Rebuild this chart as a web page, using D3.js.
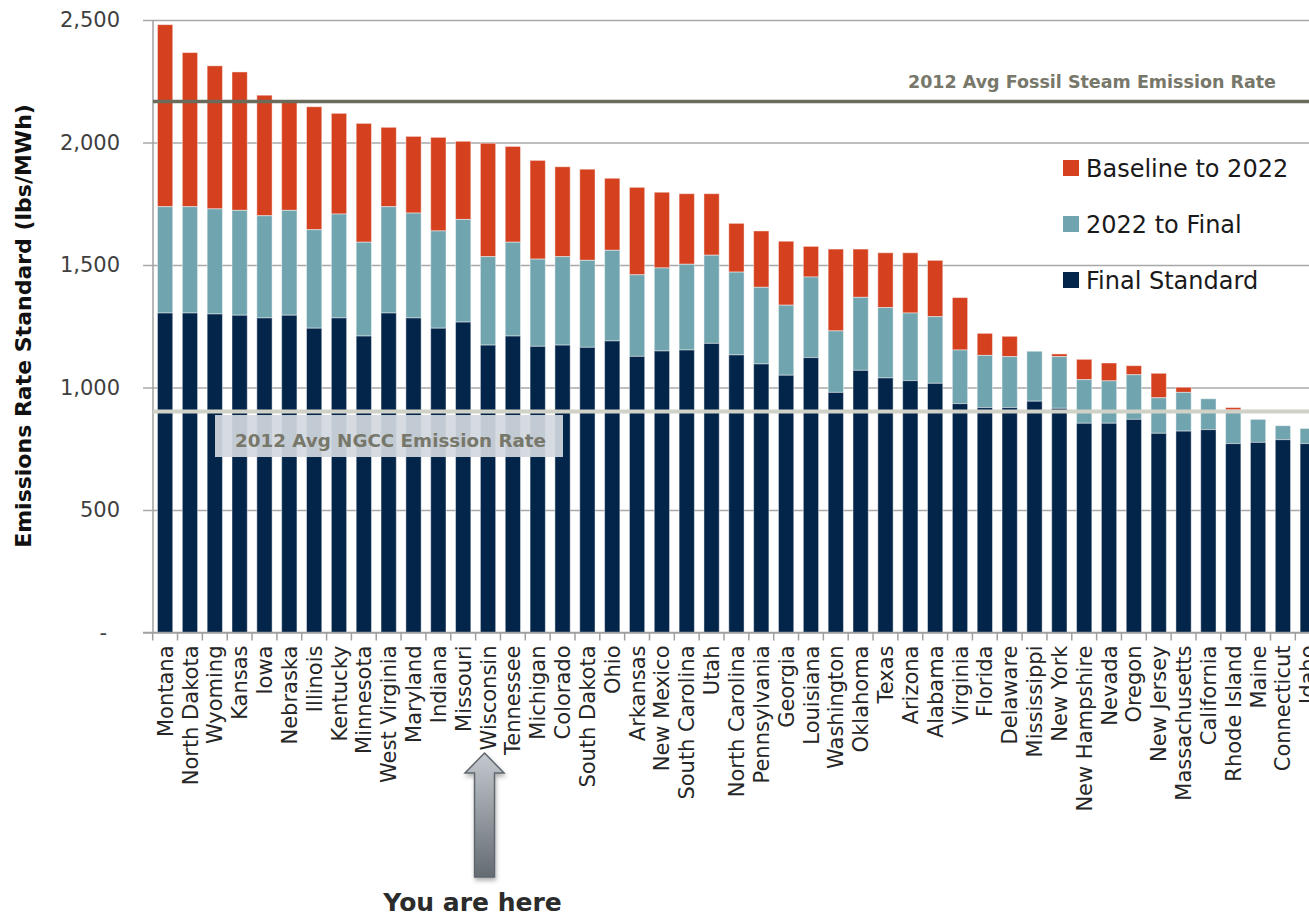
<!DOCTYPE html>
<html>
<head>
<meta charset="utf-8">
<script src="https://cdn.jsdelivr.net/npm/d3@7"></script>
<style>
  html, body { margin: 0; padding: 0; background: #fff; }
  svg { display: block; }
  text { font-family: "DejaVu Sans", sans-serif; }
</style>
</head>
<body>
<svg id="canvas" width="1309" height="918"></svg>
<script>
// states in chart order, plus the three stacked levels (lbs/MWh)
const states = ["Montana", "North Dakota", "Wyoming", "Kansas", "Iowa", "Nebraska", "Illinois", "Kentucky",
  "Minnesota", "West Virginia", "Maryland", "Indiana", "Missouri", "Wisconsin", "Tennessee", "Michigan",
  "Colorado", "South Dakota", "Ohio", "Arkansas", "New Mexico", "South Carolina", "Utah", "North Carolina",
  "Pennsylvania", "Georgia", "Louisiana", "Washington", "Oklahoma", "Texas", "Arizona", "Alabama",
  "Virginia", "Florida", "Delaware", "Mississippi", "New York", "New Hampshire", "Nevada", "Oregon",
  "New Jersey", "Massachusetts", "California", "Rhode Island", "Maine", "Connecticut", "Idaho"];

const finalStandard = [1304, 1304, 1300, 1295, 1284, 1295, 1242, 1284, 1210, 1304, 1284, 1242, 1267, 1173, 1210, 1168,
  1173, 1164, 1190, 1127, 1149, 1153, 1180, 1133, 1096, 1050, 1122, 980, 1070, 1039, 1028, 1017,
  934, 918, 918, 944, 915, 854, 854, 870, 813, 822, 828, 771, 776, 787, 771];

const interim2022 = [1738, 1738, 1729, 1723, 1701, 1723, 1644, 1708, 1593, 1738, 1712, 1639, 1686, 1534, 1593, 1524,
  1534, 1519, 1560, 1460, 1488, 1503, 1540, 1471, 1409, 1336, 1451, 1231, 1368, 1326, 1304, 1289,
  1153, 1131, 1126, 1148, 1126, 1032, 1027, 1052, 958, 980, 954, 908, 870, 844, 833];

const baseline = [2481, 2367, 2313, 2288, 2193, 2165, 2146, 2119, 2078, 2062, 2025, 2021, 2005, 1997, 1984, 1927,
  1901, 1891, 1854, 1817, 1797, 1791, 1791, 1670, 1639, 1597, 1576, 1565, 1565, 1550, 1550, 1519,
  1367, 1221, 1209, 1148, 1137, 1115, 1100, 1089, 1058, 1001, 954, 918, 870, 844, 833];

const seriesNames = ["Baseline to 2022", "2022 to Final", "Final Standard"];
const yTicks = [0, 500, 1000, 1500, 2000, 2500];
const fossilRate = 2167;
const ngccRate = 902;
const highlight = "Wisconsin";

const settings = {
  width: 1309,
  height: 918,
  left: 153,
  top: 20,
  bottom: 632.5,
  step: 24.84,
  colors: ["#d5401f", "#70a4ae", "#03254a"],
};

function graph() {
  const svg = d3.select('#canvas');
  const n = states.length;

  const pIn = 0.385, pOut = 0.18;
  const x = d3.scaleBand()
    .domain(states)
    .range([settings.left, settings.left + settings.step * (n - pIn + 2 * pOut)])
    .paddingInner(pIn)
    .paddingOuter(pOut);

  const y = d3.scaleLinear()
    .domain([0, 2500])
    .range([settings.bottom, settings.top]);

  // gridlines
  svg.append("g")
    .attr("transform", `translate(${settings.left},0)`)
    .call(d3.axisLeft(y).tickValues(yTicks).tickSize(-(settings.width - settings.left)).tickFormat(""))
    .call(g => g.select(".domain").remove())
    .call(g => g.selectAll("line").attr("stroke", "#a8a8a8").attr("stroke-width", 1.5));

  // y axis ticks + labels
  svg.append("g")
    .attr("transform", `translate(${settings.left},0)`)
    .call(d3.axisLeft(y).tickValues(yTicks).tickSize(10).tickPadding(23)
      .tickFormat(d => d ? d3.format(",")(d) : "-"))
    .call(g => g.select(".domain").remove())
    .call(g => g.selectAll("line").attr("stroke", "#a8a8a8").attr("stroke-width", 1.5))
    .call(g => g.selectAll("text")
      .attr("font-family", "DejaVu Sans")
      .attr("font-size", 21)
      .attr("fill", "#3f3f3f"))
    .call(g => g.selectAll("text").filter(d => d === 0).attr("dx", -13));

  // stacked segments
  const rows = states.map((s, i) => ({
    state: s,
    segs: [
      [interim2022[i], baseline[i], 0],
      [finalStandard[i], interim2022[i], 1],
      [0, finalStandard[i], 2],
    ]
  }));

  svg.append("g")
    .attr("class", "bars")
    .selectAll("g")
    .data(rows)
    .join("g")
    .selectAll("rect")
    .data(d => d.segs.filter(s => s[1] > s[0]).map(s => ({ state: d.state, lo: s[0], hi: s[1], k: s[2] })))
    .join("rect")
    .attr("x", d => x(d.state))
    .attr("y", d => y(d.hi))
    .attr("width", x.bandwidth())
    .attr("height", d => y(d.lo) - y(d.hi))
    .attr("fill", d => settings.colors[d.k])
    .attr("stroke", "#ffffff")
    .attr("stroke-opacity", 0.45)
    .attr("stroke-width", 1);

  // axis lines
  svg.append("line")
    .attr("x1", settings.left).attr("x2", settings.left)
    .attr("y1", y(2500)).attr("y2", y(0))
    .attr("stroke", "#a0a0a0").attr("stroke-width", 1.5);

  svg.append("line")
    .attr("x1", settings.left - 10).attr("x2", settings.width)
    .attr("y1", y(0)).attr("y2", y(0))
    .attr("stroke", "#a0a0a0").attr("stroke-width", 1.5);

  // x ticks sit between the bars
  const half = x.step() * x.paddingInner() / 2;
  svg.append("g")
    .selectAll("line")
    .data(states)
    .join("line")
    .attr("x1", d => x(d) - half)
    .attr("x2", d => x(d) - half)
    .attr("y1", y(0))
    .attr("y2", y(0) + 8)
    .attr("stroke", "#a0a0a0")
    .attr("stroke-width", 1.5);

  svg.append("g")
    .attr("class", "xlabels")
    .selectAll("text")
    .data(states)
    .join("text")
    .attr("transform", d => `translate(${x(d) + x.bandwidth() / 2},${y(0) + 13}) rotate(-90)`)
    .attr("dy", "0.36em")
    .attr("text-anchor", "end")
    .attr("font-size", 21)
    .attr("fill", "#262626")
    .text(d => d);

  // NGCC label box + reference lines
  svg.append("rect")
    .attr("x", 215).attr("y", y(ngccRate) + 3.5)
    .attr("width", 348).attr("height", 42)
    .attr("fill", "#d3d8e0")
    .attr("fill-opacity", 0.92);

  svg.append("text")
    .attr("x", 235).attr("y", y(ngccRate) + 35)
    .attr("font-size", 18.3).attr("font-weight", "bold")
    .attr("fill", "#77776a")
    .text("2012 Avg NGCC Emission Rate");

  svg.append("line")
    .attr("x1", settings.left).attr("x2", settings.width)
    .attr("y1", y(ngccRate)).attr("y2", y(ngccRate))
    .attr("stroke", "#d1d2c7").attr("stroke-width", 4);

  svg.append("line")
    .attr("x1", settings.left).attr("x2", settings.width)
    .attr("y1", y(fossilRate)).attr("y2", y(fossilRate))
    .attr("stroke", "#6b6b5b").attr("stroke-width", 3.5);

  svg.append("text")
    .attr("x", 1276).attr("y", y(fossilRate) - 14)
    .attr("text-anchor", "end")
    .attr("font-size", 17.5).attr("font-weight", "bold")
    .attr("fill", "#77776a")
    .text("2012 Avg Fossil Steam Emission Rate");

  // legend
  const legend = svg.append("g")
    .attr("class", "legend")
    .selectAll("g")
    .data(seriesNames)
    .join("g")
    .attr("transform", (d, i) => `translate(1063,${168 + i * 56})`);

  legend.append("rect")
    .attr("x", 0).attr("y", -8)
    .attr("width", 16).attr("height", 16)
    .attr("fill", (d, i) => settings.colors[i]);

  legend.append("text")
    .attr("x", 23)
    .attr("dy", "0.36em")
    .attr("font-size", 24)
    .attr("fill", "#1a1a1a")
    .text(d => d);

  // y title
  svg.append("text")
    .attr("transform", `translate(31,326) rotate(-90)`)
    .attr("text-anchor", "middle")
    .attr("font-size", 22)
    .attr("font-weight", "bold")
    .attr("fill", "#111")
    .text("Emissions Rate Standard (lbs/MWh)");

  // "You are here" arrow under the highlighted state
  const defs = svg.append("defs");
  const grad = defs.append("linearGradient")
    .attr("id", "arrowGrad")
    .attr("x1", 0).attr("y1", 0).attr("x2", 0).attr("y2", 1);
  grad.append("stop").attr("offset", "0%").attr("stop-color", "#c4cacf");
  grad.append("stop").attr("offset", "100%").attr("stop-color", "#646b72");

  const shadow = defs.append("filter").attr("id", "shadow")
    .attr("x", "-30%").attr("y", "-10%").attr("width", "160%").attr("height", "130%");
  shadow.append("feDropShadow")
    .attr("dx", 1).attr("dy", 3).attr("stdDeviation", 2)
    .attr("flood-color", "#000").attr("flood-opacity", 0.3);

  const ax = x(highlight) + x.bandwidth() / 2 - 3.5,
    tip = 753, headBase = 773, bottom = 877, hw = 19.5, sw = 10;
  svg.append("path")
    .attr("d", `M${ax},${tip} L${ax + hw},${headBase} L${ax + sw},${headBase} L${ax + sw},${bottom}
      L${ax - sw},${bottom} L${ax - sw},${headBase} L${ax - hw},${headBase} Z`)
    .attr("fill", "url(#arrowGrad)")
    .attr("stroke", "#5f666d")
    .attr("stroke-width", 1.5)
    .attr("filter", "url(#shadow)");

  svg.append("text")
    .attr("x", ax - 12).attr("y", 911)
    .attr("text-anchor", "middle")
    .attr("font-family", "Open Sans, sans-serif")
    .attr("font-size", 25)
    .attr("font-weight", "bold")
    .attr("fill", "#2b2b2b")
    .text("You are here");
}

window.addEventListener('DOMContentLoaded', () => {
  graph();
});
</script>
</body>
</html>
